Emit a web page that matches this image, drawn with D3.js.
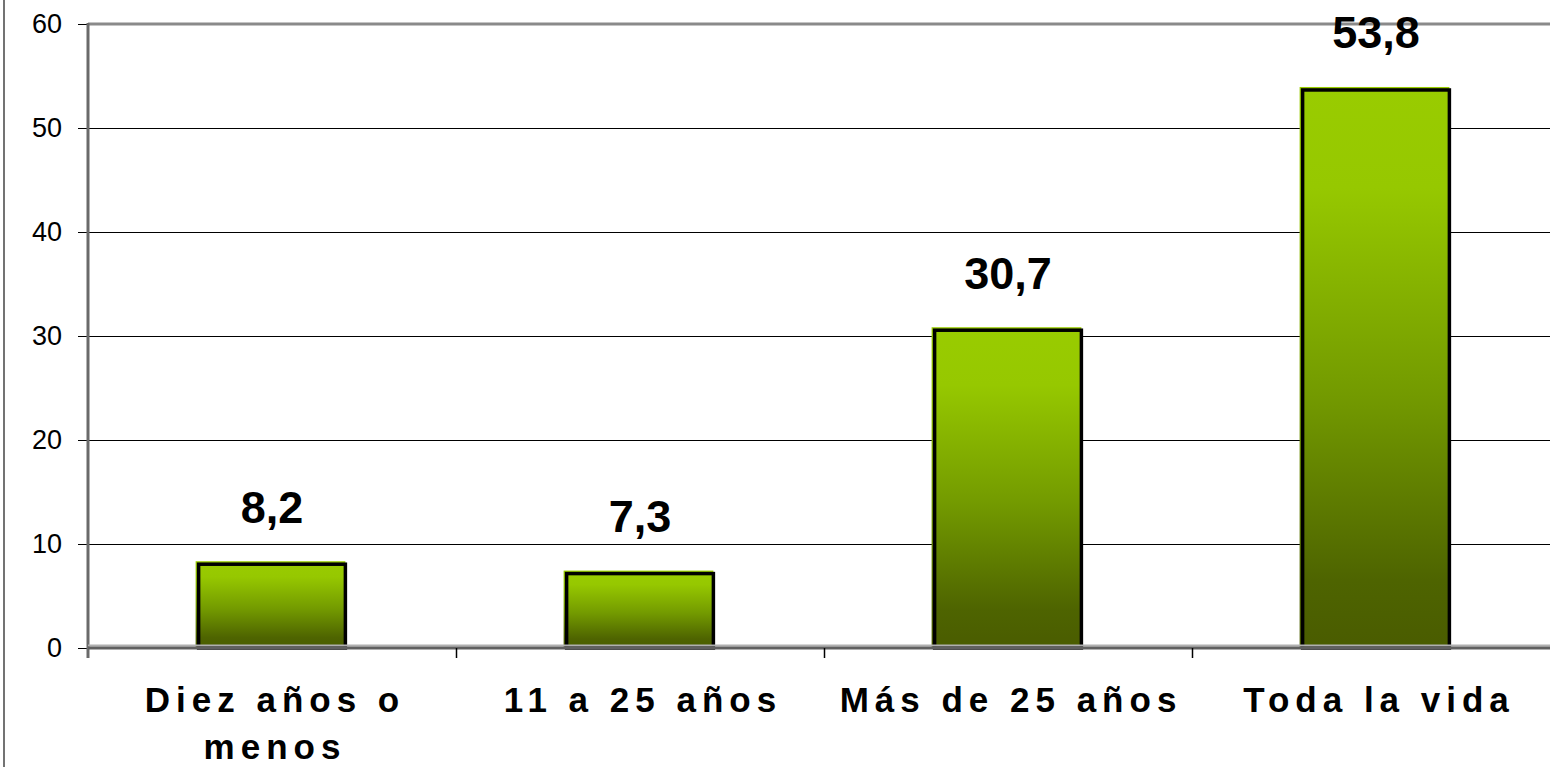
<!DOCTYPE html>
<html>
<head>
<meta charset="utf-8">
<script src="https://cdn.jsdelivr.net/npm/d3@7"></script>
<style>
  html, body { margin: 0; padding: 0; background: #ffffff; }
  svg { display: block; }
  text { font-family: "Liberation Sans", Arial, sans-serif; }
</style>
</head>
<body>
<svg id="chart" width="1550" height="767"></svg>
<script>
// ---- data ----
const categories = ["Diez años o menos", "11 a 25 años", "Más de 25 años", "Toda la vida"];
const categoryLines = [["Diez años o", "menos"], ["11 a 25 años"], ["Más de 25 años"], ["Toda la vida"]];
const values = [8.2, 7.3, 30.7, 53.8];
const valueLabels = ["8,2", "7,3", "30,7", "53,8"];
const yTicks = [0, 10, 20, 30, 40, 50, 60];

// ---- layout ----
const W = 1550, H = 767;
const plot = { left: 88, right: 1560, top: 24, bottom: 648 };

const svg = d3.select("#chart");

const defs = svg.append("defs");
const grad = defs.append("linearGradient")
  .attr("id", "barGrad").attr("x1", 0).attr("y1", 0).attr("x2", 0).attr("y2", 1);
[[0, "#99cc00"], [0.18, "#96c800"], [0.55, "#739a00"], [0.88, "#4e6400"], [1, "#4a5c00"]]
  .forEach(([o, c]) => grad.append("stop").attr("offset", o).attr("stop-color", c));

const x = d3.scaleBand().domain(categories).range([plot.left, plot.right])
  .paddingInner(0.593).paddingOuter(0.2965);
const y = d3.scaleLinear().domain([0, 60]).range([plot.bottom, plot.top]);
const step = x.step();
const boundaries = d3.range(categories.length + 1).map(i => plot.left + i * step);

// outer chart border (left edge)
svg.append("line").attr("x1", 4).attr("x2", 4).attr("y1", 0).attr("y2", H)
  .attr("stroke", "#444").attr("stroke-width", 1.5);

// gridlines
svg.append("g").selectAll("line").data(yTicks.filter(t => t > 0 && t < 60)).join("line")
  .attr("x1", plot.left).attr("x2", W)
  .attr("y1", d => Math.round(y(d)) + 0.5).attr("y2", d => Math.round(y(d)) + 0.5)
  .attr("stroke", "#000").attr("stroke-width", 1);

// top plot border
svg.append("line").attr("x1", plot.left).attr("x2", W).attr("y1", y(60)).attr("y2", y(60))
  .attr("stroke", "#8a8a8a").attr("stroke-width", 3);

// y axis via d3
const yAxis = d3.axisLeft(y).tickValues(yTicks).tickSize(10).tickPadding(16).tickFormat(d3.format("d"));
const gy = svg.append("g").attr("transform", `translate(${plot.left},0)`).call(yAxis)
  .attr("font-size", null).attr("font-family", null);
gy.select(".domain").remove();
gy.selectAll(".tick line").attr("stroke", "#000").attr("stroke-width", 1);
gy.selectAll(".tick text").style("font-size", "27px").attr("fill", "#000")
  .style("font-family", "'Liberation Sans', Arial, sans-serif");

// bars: fill slightly offset up-left, then black outline
const bars = svg.append("g");
bars.selectAll("rect.fill").data(values).join("rect").attr("class", "fill")
  .attr("x", (d, i) => x(categories[i]) - 1.5)
  .attr("y", d => y(d) - 1.5)
  .attr("width", x.bandwidth())
  .attr("height", d => y(0) - y(d) + 1.5)
  .attr("fill", "url(#barGrad)");
bars.selectAll("rect.outline").data(values).join("rect").attr("class", "outline")
  .attr("x", (d, i) => x(categories[i]) + 1.5)
  .attr("y", d => y(d) + 1.5)
  .attr("width", x.bandwidth() - 3)
  .attr("height", d => y(0) - y(d) - 1.5)
  .attr("fill", "none").attr("stroke", "#000").attr("stroke-width", 3.5);

// left axis line
svg.append("line").attr("x1", plot.left).attr("x2", plot.left).attr("y1", plot.top - 1).attr("y2", plot.bottom + 10)
  .attr("stroke", "#6a6a6a").attr("stroke-width", 3);

// bottom axis line
svg.append("line").attr("x1", plot.left).attr("x2", W).attr("y1", plot.bottom - 2.5).attr("y2", plot.bottom - 2.5)
  .attr("stroke", "#b0b0b0").attr("stroke-width", 2);
svg.append("line").attr("x1", plot.left).attr("x2", W).attr("y1", plot.bottom).attr("y2", plot.bottom)
  .attr("stroke", "#606060").attr("stroke-width", 3);

// category boundary ticks
svg.append("g").selectAll("line").data(boundaries.slice(1)).join("line")
  .attr("x1", d => Math.round(d) + 0.5).attr("x2", d => Math.round(d) + 0.5)
  .attr("y1", plot.bottom).attr("y2", plot.bottom + 10)
  .attr("stroke", "#000").attr("stroke-width", 1.5);

// value labels
svg.append("g").selectAll("text").data(values).join("text")
  .attr("x", (d, i) => x(categories[i]) + x.bandwidth() / 2)
  .attr("y", d => y(d) - 40)
  .attr("text-anchor", "middle")
  .attr("font-size", 45).attr("font-weight", "bold").attr("fill", "#000")
  .text((d, i) => valueLabels[i]);

// category labels
const cl = svg.append("g").selectAll("text").data(categories).join("text")
  .attr("text-anchor", "middle")
  .attr("font-size", 35).attr("font-weight", "bold").attr("fill", "#000")
  .attr("letter-spacing", "6px");
cl.each(function(d, i) {
  const t = d3.select(this);
  const cx = x(d) + x.bandwidth() / 2 + 3;
  categoryLines[i].forEach((ln, j) => {
    t.append("tspan").attr("x", cx).attr("y", 712 + j * 47).text(ln);
  });
});
</script>
</body>
</html>
